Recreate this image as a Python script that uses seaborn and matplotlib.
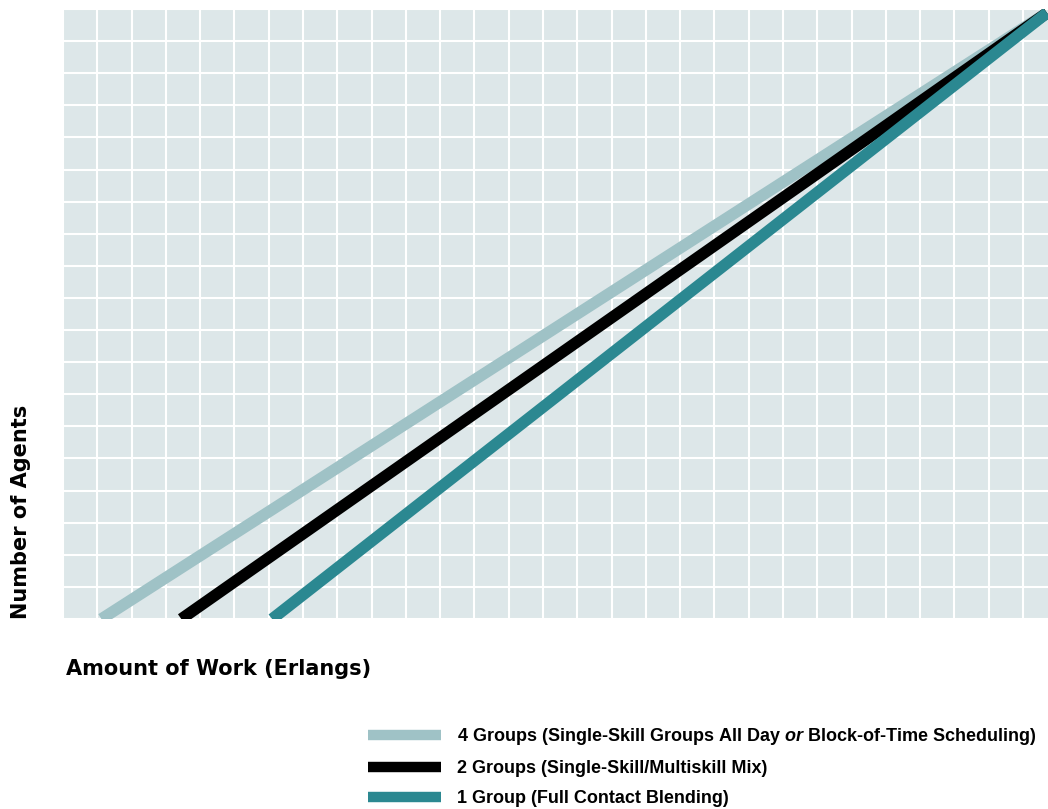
import matplotlib
matplotlib.use("Agg")
import matplotlib.pyplot as plt
import seaborn as sns
import pandas as pd

# ---- data (x in Erlangs grid units, y in agent grid units)
series = [
    "4 Groups (Single-Skill Groups All Day $\\mathbfit{or}$ Block-of-Time Scheduling)",
    "2 Groups (Single-Skill/Multiskill Mix)",
    "1 Group (Full Contact Blending)",
]
work_start = [1.12, 3.45, 6.10]
work_end = [28.70, 28.70, 28.70]
agents_start = [0.0, 0.0, 0.0]
agents_end = [18.88, 18.88, 18.88]
colors = ["#9fc2c6", "#000000", "#2b8891"]

rows = []
for s, x0, x1, y0, y1 in zip(series, work_start, work_end, agents_start, agents_end):
    rows.append({"series": s, "work": x0, "agents": y0})
    rows.append({"series": s, "work": x1, "agents": y1})
df = pd.DataFrame(rows)

sns.set_theme(style="whitegrid", rc={
    "axes.facecolor": "#dde7e9",
    "grid.color": "white",
    "grid.linewidth": 1.5,
    "axes.edgecolor": "#dde7e9",
    "text.color": "black",
    "axes.labelcolor": "black",
})
plt.rcParams["font.family"] = ["DejaVu Sans"]
plt.rcParams["mathtext.fontset"] = "custom"
plt.rcParams["mathtext.bfit"] = "Liberation Sans:italic:bold"

fig = plt.figure(figsize=(10.48, 8.09), dpi=100)
ax = fig.add_axes([63 / 1048, 1 - 619 / 809, 1 - 63 / 1048, 610 / 809])

sns.lineplot(data=df, x="work", y="agents", hue="series", hue_order=series,
             palette=colors, linewidth=8.3, ax=ax, legend=True, sort=False)
for ln in ax.lines:
    ln.set_solid_capstyle("butt")

ax.set_xlim(0, 28.73)
ax.set_ylim(0, 19)
ax.set_xticks(range(0, 29))
ax.set_yticks(range(0, 20))
ax.tick_params(length=0, labelbottom=False, labelleft=False)
for sp in ax.spines.values():
    sp.set_visible(False)

ax.set_xlabel("Amount of Work (Erlangs)", loc="left", fontsize=15,
              fontweight="bold", labelpad=29)
ax.set_ylabel("Number of Agents", loc="bottom", fontsize=15,
              fontweight="bold", labelpad=23)
ax.xaxis.label.set_x(0.003)

handles, labels = ax.get_legend_handles_labels()
ax.get_legend().remove()
leg = fig.legend(handles, labels, loc="upper left",
                 bbox_to_anchor=(361 / 1048, 1 - 719 / 809),
                 frameon=False, handlelength=4.05, handletextpad=0.88,
                 labelspacing=0.72, borderaxespad=0,
                 prop={"family": "Liberation Sans", "weight": "bold", "size": 13.0})
for h in leg.legend_handles:
    h.set_linewidth(7.5)
    h.set_solid_capstyle("butt")

fig.savefig("out.png", dpi=100)
